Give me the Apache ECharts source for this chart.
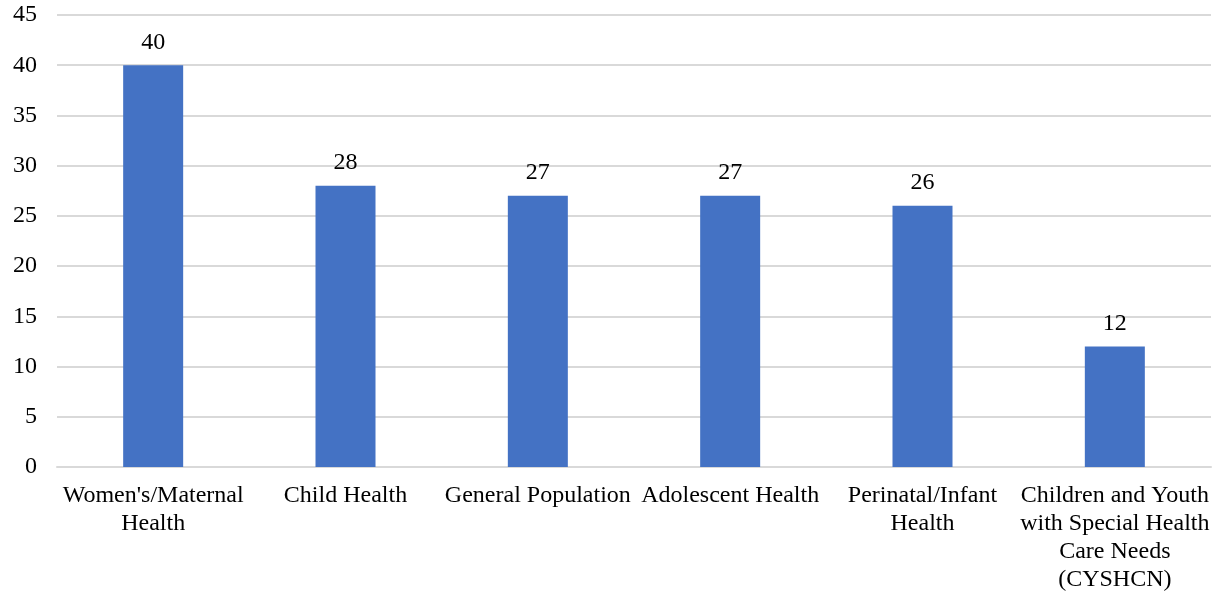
<!DOCTYPE html>
<html>
<head>
<meta charset="utf-8">
<script src="https://cdn.jsdelivr.net/npm/echarts@6/dist/echarts.min.js"></script>
<style>
  html, body { margin: 0; padding: 0; background: #fff; }
  #chart { width: 1220px; height: 594px; }
</style>
</head>
<body>
<div id="chart"></div>
<script>
// Population domains and number of items in each
const categories = [
  "Women's/Maternal\nHealth",
  "Child Health",
  "General Population",
  "Adolescent Health",
  "Perinatal/Infant\nHealth",
  "Children and Youth\nwith Special Health\nCare Needs\n(CYSHCN)"
];
const counts = [40, 28, 27, 27, 26, 12];
const yTicks = { min: 0, max: 45, interval: 5 };

const font = "'Liberation Serif', 'Times New Roman', serif";
const chart = echarts.init(document.getElementById('chart'));
chart.setOption({
  animation: false,
  grid: { left: 57, right: 9, top: 15, bottom: 126 },
  xAxis: {
    type: 'category',
    data: categories,
    axisTick: { show: false },
    axisLine: { lineStyle: { color: '#d9d9d9', width: 2 } },
    axisLabel: {
      interval: 0,
      margin: 15,
      color: '#000',
      fontFamily: font,
      fontSize: 24,
      lineHeight: 28
    }
  },
  yAxis: {
    type: 'value',
    min: yTicks.min,
    max: yTicks.max,
    interval: yTicks.interval,
    axisLine: { show: false },
    axisTick: { show: false },
    splitLine: { lineStyle: { color: '#d9d9d9', width: 2 } },
    axisLabel: {
      margin: 20,
      color: '#000',
      fontFamily: font,
      fontSize: 24
    }
  },
  series: [{
    type: 'bar',
    data: counts,
    barWidth: 60,
    itemStyle: { color: '#4472C4' },
    label: {
      show: true,
      position: 'top',
      distance: 11,
      color: '#000',
      fontFamily: font,
      fontSize: 24
    }
  }]
});
</script>
</body>
</html>
